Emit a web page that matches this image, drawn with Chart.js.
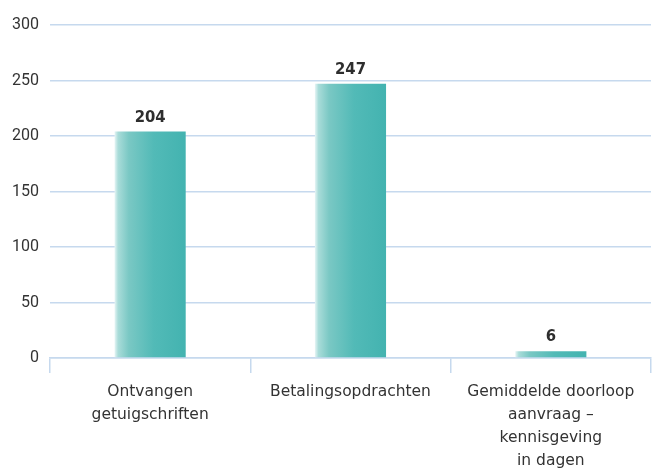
<!DOCTYPE html>
<html>
<head>
<meta charset="utf-8">
<script src="https://cdn.jsdelivr.net/npm/chart.js@4.4.0/dist/chart.umd.min.js"></script>
<style>
  html, body { margin: 0; padding: 0; background: #fff; }
  #wrap { width: 652px; height: 474px; }
</style>
</head>
<body>
<div id="wrap"><canvas id="chart_doorloop" width="652" height="474"></canvas></div>
<script>
var categories = [
    ['Ontvangen', 'getuigschriften'],
    ['Betalingsopdrachten'],
    ['Gemiddelde doorloop', 'aanvraag \u2013', 'kennisgeving', 'in dagen']
];
var values = [204, 247, 6];
var yTicks = [0, 50, 100, 150, 200, 250, 300];

var gridColor = '#c6d9ee';
var barFraction = 0.355;

function barGradient(context) {
    var chart = context.chart;
    var xScale = chart.scales.x;
    if (!chart.chartArea || !xScale) return '#45b5b2';
    var center = xScale.getPixelForValue(context.dataIndex);
    var half = (xScale.width / categories.length) * barFraction / 2;
    var g = chart.ctx.createLinearGradient(center - half, 0, center + half, 0);
    g.addColorStop(0, '#e6f5f5');
    g.addColorStop(0.05, '#a9dcd9');
    g.addColorStop(0.2, '#7ac8c4');
    g.addColorStop(0.55, '#52bab7');
    g.addColorStop(1, '#43b3b0');
    return g;
}

// draws the value above each bar
var valueLabels = {
    id: 'valueLabels',
    afterDatasetsDraw: function (chart) {
        var ctx = chart.ctx;
        var meta = chart.getDatasetMeta(0);
        ctx.save();
        ctx.font = 'bold 16.5px "DejaVu Sans Condensed", "DejaVu Sans", sans-serif';
        ctx.fillStyle = '#2e2e2e';
        ctx.textAlign = 'center';
        ctx.textBaseline = 'bottom';
        meta.data.forEach(function (bar, i) {
            ctx.fillText(values[i], bar.x, bar.y - 6);
        });
        ctx.restore();
    }
};

var ctx = document.getElementById('chart_doorloop').getContext('2d');
var chart = new Chart(ctx, {
    type: 'bar',
    data: {
        labels: categories,
        datasets: [{
            data: values,
            backgroundColor: barGradient,
            borderWidth: 0,
            categoryPercentage: 1,
            barPercentage: barFraction
        }]
    },
    options: {
        responsive: false,
        animation: false,
        layout: { padding: { top: 25, right: 1, left: 1, bottom: -6 } },
        plugins: {
            legend: { display: false },
            tooltip: { enabled: false }
        },
        scales: {
            y: {
                min: 0,
                max: 300,
                afterBuildTicks: function (scale) {
                    scale.ticks = yTicks.map(function (v) { return { value: v }; });
                },
                border: { display: false },
                grid: { color: gridColor, lineWidth: 1.5, drawTicks: false },
                ticks: {
                    padding: 11,
                    color: '#333',
                    font: { family: 'Roboto, sans-serif', size: 16 }
                }
            },
            x: {
                border: { display: true, color: gridColor, width: 1.5 },
                grid: {
                    offset: true,
                    drawOnChartArea: false,
                    color: gridColor,
                    lineWidth: 1.5,
                    tickLength: 15
                },
                ticks: {
                    padding: 7,
                    color: '#333',
                    maxRotation: 0,
                    font: { family: '"DejaVu Sans", sans-serif', size: 15.5, lineHeight: 1.5 }
                }
            }
        }
    },
    plugins: [valueLabels]
});
</script>
</body>
</html>
